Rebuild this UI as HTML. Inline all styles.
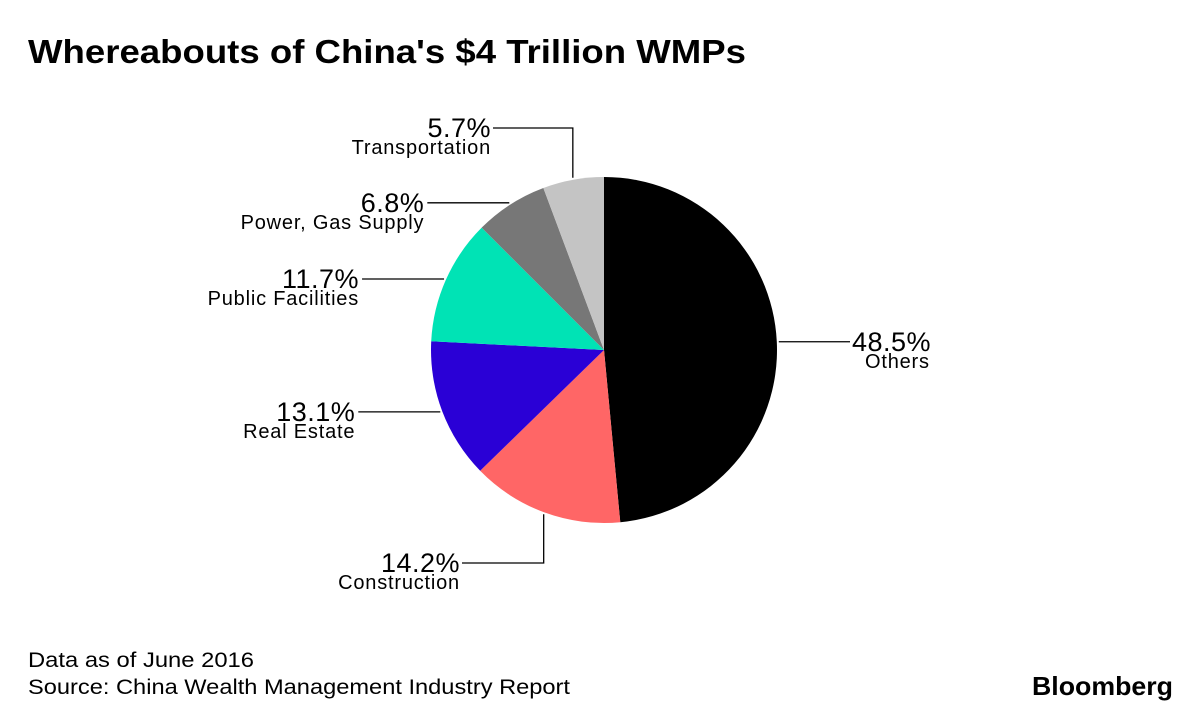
<!DOCTYPE html>
<html><head><meta charset="utf-8"><style>
html,body{margin:0;padding:0;background:#fff;}
svg{display:block;font-family:"Liberation Sans",sans-serif;}
</style></head><body>
<svg width="1200" height="713" viewBox="0 0 1200 713">
<text x="28" y="63" font-size="33" font-weight="bold" fill="#000" textLength="718" lengthAdjust="spacingAndGlyphs">Whereabouts of China's $4 Trillion WMPs</text>
<g id="pie"></g>
<g id="labels"></g>
<text x="28" y="667" font-size="21" fill="#000" textLength="226" lengthAdjust="spacingAndGlyphs">Data as of June 2016</text>
<text x="28" y="694" font-size="21" fill="#000" textLength="542" lengthAdjust="spacingAndGlyphs">Source: China Wealth Management Industry Report</text>
<text x="1032" y="695" font-size="26" font-weight="bold" fill="#000" textLength="141" lengthAdjust="spacingAndGlyphs">Bloomberg</text>
</svg>
<script>
const categories=["Others","Construction","Real Estate","Public Facilities","Power, Gas Supply","Transportation"];
const values=[48.5,14.2,13.1,11.7,6.8,5.7];
const valueLabels=["48.5%","14.2%","13.1%","11.7%","6.8%","5.7%"];
const colors=["#000000","#ff6666","#2a00d6","#00e3b5","#777777","#c4c4c4"];
const NS="http://www.w3.org/2000/svg";
const cx=604,cy=350,r=173;
const total=values.reduce((a,b)=>a+b,0);
function pt(frac,rad){const a=frac*2*Math.PI-Math.PI/2;return [cx+rad*Math.cos(a),cy+rad*Math.sin(a)];}
const pie=document.getElementById('pie'),lab=document.getElementById('labels');
let acc=0;
values.forEach((v,i)=>{
  const s=acc/total,e=(acc+v)/total;acc+=v;
  const p1=pt(s,r),p2=pt(e,r);
  const large=(e-s)>0.5?1:0;
  const path=document.createElementNS(NS,'path');
  path.setAttribute('d',`M${cx},${cy}L${p1[0]},${p1[1]}A${r},${r} 0 ${large} 1 ${p2[0]},${p2[1]}Z`);
  path.setAttribute('fill',colors[i]);
  
  
  pie.appendChild(path);
  const m=pt((s+e)/2,r+2);
  let pts,tx,anchor,by;
  if(m[0]>cx+100){pts=[[m[0],m[1]],[850,m[1]]];tx=852;anchor='start';by=m[1]+9;}
  else if(Math.abs(m[1]-cy)>r*0.85&&m[0]>cx-80){
    const ly=m[1]>cy?563:128;const ex=m[1]>cy?462:493;
    pts=[[m[0],m[1]],[m[0],ly],[ex,ly]];tx=ex-2;anchor='end';by=ly+9;
  } else {const ex=m[0]-82;pts=[[m[0],m[1]],[ex,m[1]]];tx=ex-3;anchor='end';by=m[1]+9;}
  const pl=document.createElementNS(NS,'polyline');
  pl.setAttribute('points',pts.map(p=>p.join(',')).join(' '));
  pl.setAttribute('fill','none');pl.setAttribute('stroke','#000');pl.setAttribute('stroke-width','1.3');
  
  
  lab.appendChild(pl);
  const t1=document.createElementNS(NS,'text');
  t1.setAttribute('x',tx);t1.setAttribute('y',by);t1.setAttribute('font-size','27');t1.setAttribute('text-anchor',anchor);
  t1.setAttribute('letter-spacing','0.5');
  t1.textContent=valueLabels[i];
  
  
  lab.appendChild(t1);
  const t2=document.createElementNS(NS,'text');
  t2.setAttribute('x',anchor==='start'?tx+13:tx);t2.setAttribute('y',by+17);t2.setAttribute('font-size','20');t2.setAttribute('text-anchor',anchor);
  t2.setAttribute('letter-spacing','0.8');
  t2.textContent=categories[i];
  
  
  lab.appendChild(t2);
});
</script>
</body></html>
